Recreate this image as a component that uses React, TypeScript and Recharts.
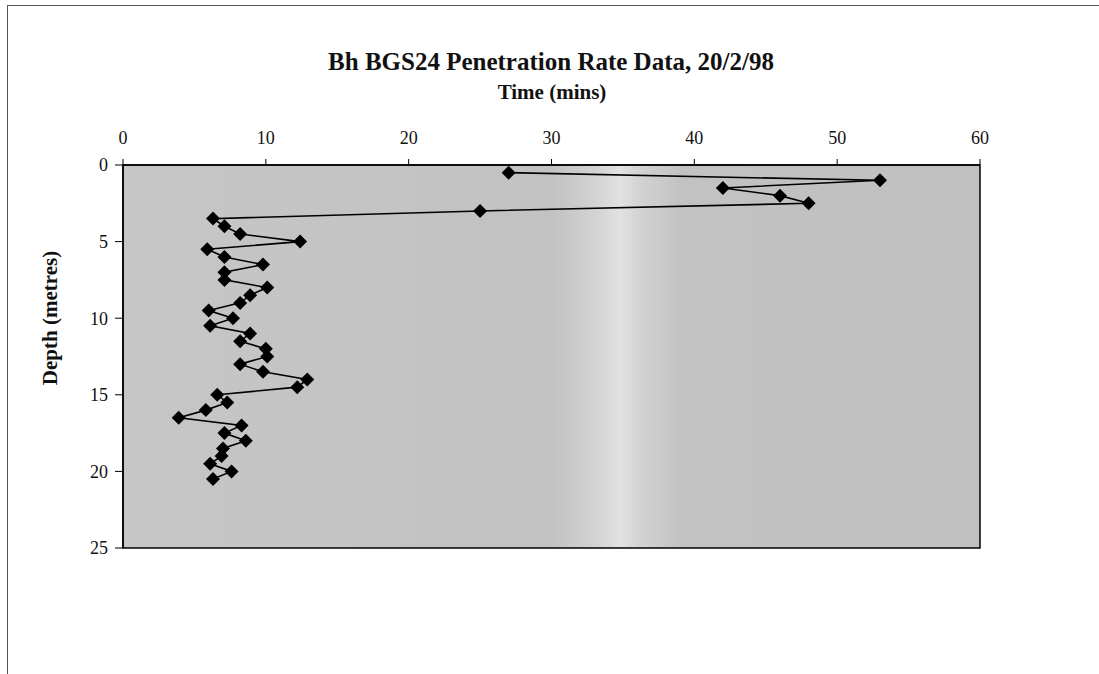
import React from "react";
import {
  ScatterChart,
  Scatter,
  XAxis,
  YAxis,
  ReferenceArea,
} from "recharts";

const depthMetres = [
  0.5, 1, 1.5, 2, 2.5, 3, 3.5, 4, 4.5, 5, 5.5, 6, 6.5, 7, 7.5, 8, 8.5, 9, 9.5,
  10, 10.5, 11, 11.5, 12, 12.5, 13, 13.5, 14, 14.5, 15, 15.5, 16, 16.5, 17,
  17.5, 18, 18.5, 19, 19.5, 20, 20.5,
];

const timeMins = [
  27, 53, 42, 46, 48, 25, 6.3, 7.1, 8.2, 12.4, 5.9, 7.1, 9.8, 7.1, 7.1, 10.1,
  8.9, 8.2, 6.0, 7.7, 6.1, 8.9, 8.2, 10.0, 10.1, 8.2, 9.8, 12.9, 12.2, 6.6,
  7.3, 5.8, 3.9, 8.3, 7.1, 8.6, 7.0, 6.9, 6.1, 7.6, 6.3,
];

const timeTicks = [0, 10, 20, 30, 40, 50, 60];
const depthTicks = [0, 5, 10, 15, 20, 25];

const TITLE = "Bh BGS24 Penetration Rate Data, 20/2/98";
const X_TITLE = "Time (mins)";
const Y_TITLE = "Depth (metres)";

const FONT = '"Liberation Serif", "Times New Roman", serif';

const W = 1099;
const H = 674;

// diamond marker like the old spreadsheet charts
const Diamond = (props: any) => {
  const { cx, cy } = props;
  if (cx == null || cy == null) return null;
  const r = 7;
  return (
    <path
      d={`M${cx},${cy - r} L${cx + r},${cy} L${cx},${cy + r} L${cx - r},${cy} Z`}
      fill="#000"
    />
  );
};

export default function App() {
  const data = depthMetres.map((d, i) => ({ depth: d, time: timeMins[i] }));
  const tickStyle = { fontSize: 18, fontFamily: FONT, fill: "#111" };

  return (
    <div
      style={{
        position: "absolute",
        left: 0,
        top: 0,
        width: W,
        height: H,
        background: "#fff",
        overflow: "hidden",
      }}
    >
      {/* scanned page frame */}
      <div
        style={{
          position: "absolute",
          left: 7,
          top: 5,
          width: W,
          height: H,
          borderTop: "1px solid #555",
          borderLeft: "1px solid #555",
        }}
      />
      <ScatterChart
        width={W}
        height={H}
        margin={{ top: 105, right: 119, bottom: 126, left: 43 }}
        style={{ position: "absolute", left: 0, top: 0 }}
      >
        <defs>
          <linearGradient id="plotBg" x1="0" y1="0" x2="1" y2="0">
            <stop offset="0" stopColor="#c6c6c6" />
            <stop offset="0.5" stopColor="#c2c2c2" />
            <stop offset="0.555" stopColor="#d4d4d4" />
            <stop offset="0.58" stopColor="#e2e2e2" />
            <stop offset="0.605" stopColor="#d2d2d2" />
            <stop offset="0.65" stopColor="#c2c2c2" />
            <stop offset="1" stopColor="#c0c0c0" />
          </linearGradient>
        </defs>
        <XAxis
          type="number"
          dataKey="time"
          orientation="top"
          domain={[0, 60]}
          ticks={timeTicks}
          height={60}
          tickSize={6}
          tickMargin={15}
          tick={tickStyle}
          axisLine={{ stroke: "#000", strokeWidth: 1.5 }}
          tickLine={{ stroke: "#000" }}
          allowDataOverflow
        />
        <YAxis
          type="number"
          dataKey="depth"
          domain={[0, 25]}
          ticks={depthTicks}
          reversed
          width={80}
          tickSize={8}
          tickMargin={7}
          tick={tickStyle}
          axisLine={{ stroke: "#000", strokeWidth: 1.5 }}
          tickLine={{ stroke: "#000" }}
          allowDataOverflow
        />
        <ReferenceArea
          x1={0}
          x2={60}
          y1={0}
          y2={25}
          fill="url(#plotBg)"
          fillOpacity={1}
          stroke="#000"
          strokeWidth={1.5}
        />
        <Scatter
          data={data}
          line={{ stroke: "#000", strokeWidth: 1.6 }}
          lineType="joint"
          shape={Diamond}
          isAnimationActive={false}
        />
      </ScatterChart>
      <svg
        width={W}
        height={H}
        style={{ position: "absolute", left: 0, top: 0, pointerEvents: "none" }}
      >
        <text
          x={551}
          y={70}
          textAnchor="middle"
          fontFamily={FONT}
          fontWeight="bold"
          fontSize={25}
          fill="#111"
        >
          {TITLE}
        </text>
        <text
          x={552}
          y={99}
          textAnchor="middle"
          fontFamily={FONT}
          fontWeight="bold"
          fontSize={21}
          fill="#111"
        >
          {X_TITLE}
        </text>
        <text
          x={57}
          y={318}
          textAnchor="middle"
          fontFamily={FONT}
          fontWeight="bold"
          fontSize={21}
          fill="#111"
          transform="rotate(-90 57 318)"
        >
          {Y_TITLE}
        </text>
      </svg>
    </div>
  );
}
